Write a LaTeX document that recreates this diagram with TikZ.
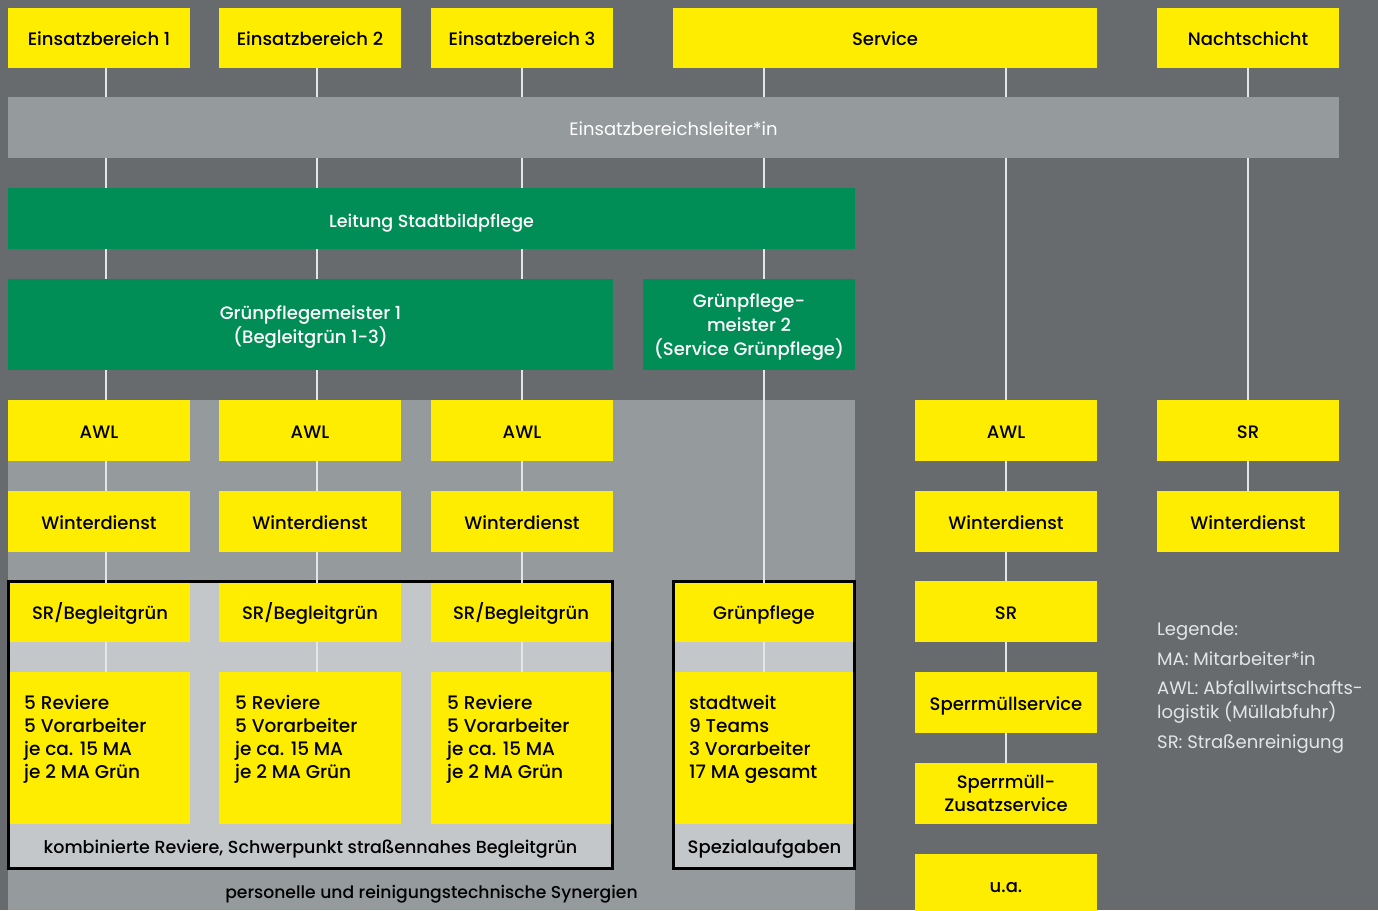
\documentclass[tikz,border=0pt]{standalone}
\usepackage{fontspec}
\setmainfont{Poppins}
\newfontfamily\pmed{Poppins Medium}
\definecolor{bgc}{HTML}{676B6E}
\definecolor{midgray}{HTML}{959A9D}
\definecolor{lightgray}{HTML}{C4C7CA}
\definecolor{grn}{HTML}{008D56}
\definecolor{yel}{HTML}{FFED00}
\definecolor{linec}{HTML}{E4E5E6}
\pgfdeclarelayer{back}
\pgfdeclarelayer{lines}
\pgfsetlayers{back,lines,main}
\tikzset{
  yfill/.style={fill=yel, text=black, inner sep=0pt, align=center, text depth=0pt,
    font=\pmed\fontsize{18}{23}\selectfont},
  ybox/.style={yfill, text height=15pt},
  gbox/.style={fill=grn, text=white, inner sep=0pt, align=center, text depth=0pt,
    font=\pmed\fontsize{18}{24}\selectfont},
  colw/.style={minimum width=182pt},
  rowh/.style={minimum height=61pt},
  conn/.style={draw=linec, line width=1.2pt},
  frame/.style={draw=black, line width=2.8pt, fill=lightgray, inner sep=0pt},
  ctext/.style={anchor=north west, inner sep=0pt, align=left, text=black,
    font=\pmed\fontsize{18.5}{23}\selectfont},
  btext/.style={text=black, inner sep=0pt, font=\pmed\fontsize{17.5}{23}\selectfont},
  legend/.style={anchor=base west, inner sep=0pt, align=left, text=linec,
    font=\fontsize{18}{24}\selectfont}
}
\begin{document}
\begin{tikzpicture}[x=1pt,y=-1pt]
\useasboundingbox (0,0) rectangle (1378,910);
\begin{pgfonlayer}{back}
  \fill[bgc] (0,0) rectangle (1378,910);
  \fill[midgray] (8,400) rectangle (855,910);
  \node[frame, minimum width=604.3pt, minimum height=287pt] (frame1) at (310.65,725) {};
  \node[frame, minimum width=180.9pt, minimum height=287pt] (frame2) at (764.25,725) {};
\end{pgfonlayer}

% top row
\node[ybox, colw, minimum height=60pt] (eb1) at (99,38) {Einsatzbereich 1};
\node[ybox, colw, minimum height=60pt] (eb2) at (310,38) {Einsatzbereich 2};
\node[ybox, colw, minimum height=60pt] (eb3) at (522,38) {Einsatzbereich 3};
\node[ybox, minimum width=424pt, minimum height=60pt] (serv) at (885,38) {Service};
\node[ybox, colw, minimum height=60pt] (nacht) at (1248,38) {Nachtschicht};

% leader bar
\node[fill=midgray, text=white, inner sep=0pt, minimum width=1331pt, minimum height=61pt,
  text depth=0pt, text height=15pt, font=\fontsize{18}{23}\selectfont] (leiter) at (673.5,127.5) {Einsatzbereichsleiter*in};

% green
\node[gbox, minimum width=847pt, minimum height=61pt, text height=17pt, font=\pmed\fontsize{17.5}{24}\selectfont] (leitung) at (431.5,218.5) {Leitung Stadtbildpflege};
\node[gbox, minimum width=605pt, minimum height=91pt] (gpm1) at (310.5,324.5) {Grünpflegemeister 1\\(Begleitgrün 1-3)};
\node[gbox, minimum width=212pt, minimum height=91pt] (gpm2) at (749,324.5) {Grünpflege-\\meister 2\\(Service Grünpflege)};

% AWL row
\node[ybox, colw, rowh] (awl1) at (99,430.5) {AWL};
\node[ybox, colw, rowh] (awl2) at (310,430.5) {AWL};
\node[ybox, colw, rowh] (awl3) at (522,430.5) {AWL};
\node[ybox, colw, rowh] (awl4) at (1006,430.5) {AWL};
\node[ybox, colw, rowh] (nsr) at (1248,430.5) {SR};

% Winterdienst row
\node[ybox, colw, rowh] (wd1) at (99,521.5) {Winterdienst};
\node[ybox, colw, rowh] (wd2) at (310,521.5) {Winterdienst};
\node[ybox, colw, rowh] (wd3) at (522,521.5) {Winterdienst};
\node[ybox, colw, rowh] (wd4) at (1006,521.5) {Winterdienst};
\node[ybox, colw, rowh] (wd5) at (1248,521.5) {Winterdienst};

% SR/Begleitgrün row
\node[ybox, minimum width=180pt, minimum height=59pt] (sb1) at (100,612) {SR/Begleitgrün};
\node[ybox, colw, minimum height=59pt] (sb2) at (310,612) {SR/Begleitgrün};
\node[ybox, minimum width=180pt, minimum height=59pt] (sb3) at (521,612) {SR/Begleitgrün};
\node[ybox, minimum width=178pt, minimum height=59pt] (gp) at (764,612) {Grünpflege};
\node[ybox, colw, rowh] (sr4) at (1006,611.5) {SR};

% content boxes
\node[yfill, minimum width=180pt, minimum height=152pt] (c1) at (100,748) {};
\node[yfill, colw, minimum height=152pt] (c2) at (310,748) {};
\node[yfill, minimum width=180pt, minimum height=152pt] (c3) at (521,748) {};
\node[yfill, minimum width=178pt, minimum height=152pt] (c4) at (764,748) {};
\node[ybox, colw, rowh] (spm) at (1006,702.5) {Sperrmüllservice};
\node[yfill, colw, rowh] (spz) at (1006,793.5) {Sperrmüll-\\Zusatzservice};
\node[ybox, colw, rowh] (ua) at (1006,884.5) {u.a.};

\node[ctext] (t1) at (24,695) {5 Reviere\\5 Vorarbeiter\\je ca. 15 MA\\je 2 MA Grün};
\node[ctext] (t2) at (235,695) {5 Reviere\\5 Vorarbeiter\\je ca. 15 MA\\je 2 MA Grün};
\node[ctext] (t3) at (447,695) {5 Reviere\\5 Vorarbeiter\\je ca. 15 MA\\je 2 MA Grün};
\node[ctext] (t4) at (689,695) {stadtweit\\9 Teams\\3 Vorarbeiter\\17 MA gesamt};

\node[btext] (komb) at (310.5,849)
  {kombinierte Reviere, Schwerpunkt straßennahes Begleitgrün};
\node[btext, font=\pmed\fontsize{18}{23}\selectfont] (spez) at (764.5,849) {Spezialaufgaben};
\node[btext, font=\pmed\fontsize{17.2}{23}\selectfont] (syn) at (431.5,894) {personelle und reinigungstechnische Synergien};

% legend
\node[legend] (lg1) at (1157,635) {Legende:};
\node[legend] (lg2) at (1157,665) {MA: Mitarbeiter*in};
\node[legend] (lg3) at (1157,694) {AWL: Abfallwirtschafts-};
\node[legend] (lg4) at (1157,718) {logistik (Müllabfuhr)};
\node[legend] (lg5) at (1157,748) {SR: Straßenreinigung};

% connectors
\begin{pgfonlayer}{lines}
  \draw[conn] ([xshift=7pt]eb1.south) -- ([xshift=6pt]c1.north);
  \draw[conn] ([xshift=7pt]eb2.south) -- ([xshift=7pt]c2.north);
  \draw[conn] (eb3.south) -- ([xshift=1pt]c3.north);
  \draw[conn] (c4.north |- serv.south) -- (c4.north);
  \draw[conn] (spz.north |- serv.south) -- (spz.north);
  \draw[conn] (nacht.south) -- (wd5.north);
\end{pgfonlayer}
\end{tikzpicture}
\end{document}
